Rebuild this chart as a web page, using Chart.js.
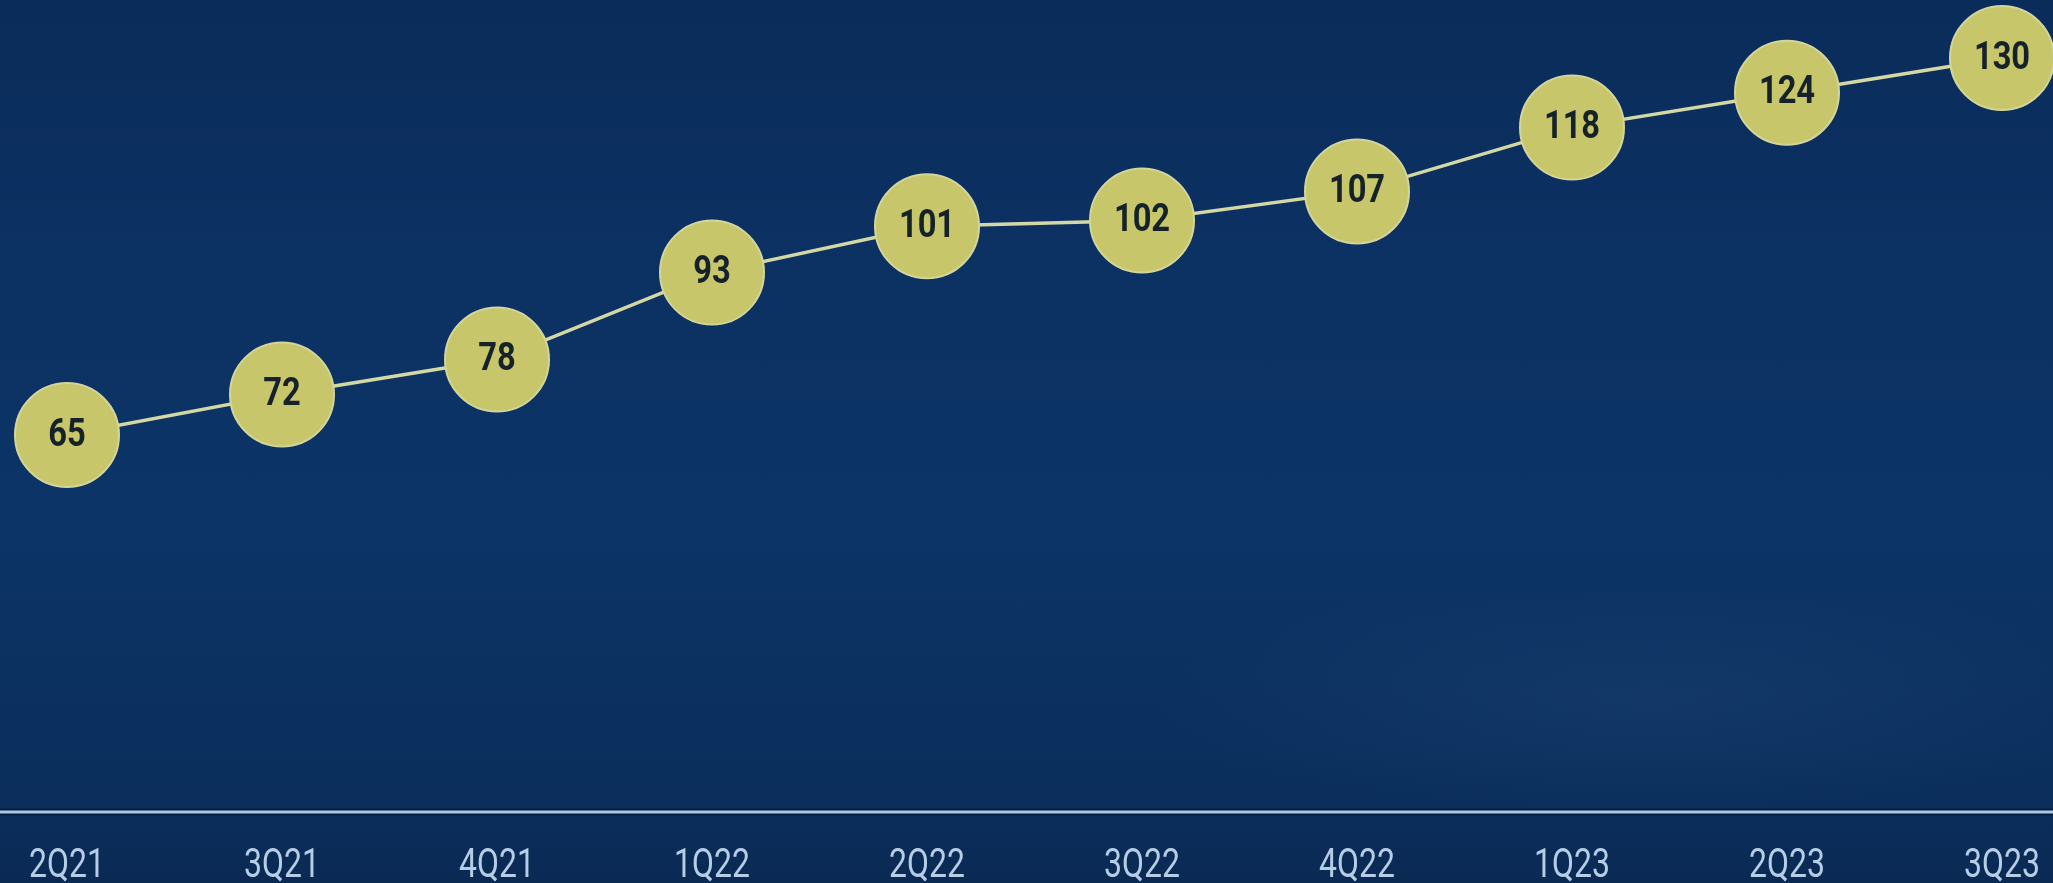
<!DOCTYPE html>
<html>
<head>
<meta charset="utf-8">
<title>Quarterly trend</title>
<script src="https://cdn.jsdelivr.net/npm/chart.js@4.4.1/dist/chart.umd.min.js"></script>
<style>
    html, body {
        margin: 0;
        padding: 0;
        width: 2053px;
        height: 883px;
        overflow: hidden;
        background: linear-gradient(180deg, #0a2c5a 0%, #0c3264 35%, #0c3466 60%, #0b2f5d 88%, #0a2a54 100%);
    }
    #wrap {
        position: relative;
        width: 2053px;
        height: 883px;
        background: radial-gradient(ellipse 500px 120px at 1650px 700px, rgba(60, 100, 150, 0.15), rgba(0, 0, 0, 0));
    }
</style>
</head>
<body>
<div id="wrap">
    <canvas id="trendChart"></canvas>
</div>
<script>
// quarters on the x axis
const quarters = ['2Q21', '3Q21', '4Q21', '1Q22', '2Q22', '3Q22', '4Q22', '1Q23', '2Q23', '3Q23'];
// value per quarter
const values = [65, 72, 78, 93, 101, 102, 107, 118, 124, 130];
// y range
const yMin = 0;
const yMax = 140;

// draws a string squeezed horizontally (narrow display face)
function drawNarrow(ctx, text, x, y, squeeze) {
    ctx.save();
    ctx.translate(x, y);
    ctx.scale(squeeze, 1);
    ctx.fillText(text, 0, 0);
    ctx.restore();
}

// full-width baseline at y = 0 plus the quarter labels under it
const baselinePlugin = {
    id: 'baseline',
    beforeDatasetsDraw(chart) {
        const ctx = chart.ctx;
        const y = chart.scales.y.getPixelForValue(yMin);
        ctx.save();
        ctx.strokeStyle = '#071d3d';
        ctx.lineWidth = 7;
        ctx.beginPath();
        ctx.moveTo(0, y);
        ctx.lineTo(chart.width, y);
        ctx.stroke();
        ctx.strokeStyle = '#a9c7e6';
        ctx.lineWidth = 3;
        ctx.beginPath();
        ctx.moveTo(0, y);
        ctx.lineTo(chart.width, y);
        ctx.stroke();

        const xScale = chart.scales.x;
        ctx.font = '400 40px Roboto, "DejaVu Sans", sans-serif';
        ctx.fillStyle = '#b6cde6';
        ctx.textAlign = 'center';
        ctx.textBaseline = 'middle';
        quarters.forEach((q, i) => {
            drawNarrow(ctx, q, xScale.getPixelForValue(i), y + 55, 0.8);
        });
        ctx.restore();
    }
};

// value labels inside the circles
const valueLabelPlugin = {
    id: 'valueLabels',
    afterDatasetsDraw(chart) {
        const ctx = chart.ctx;
        const meta = chart.getDatasetMeta(0);
        ctx.save();
        ctx.font = 'bold 38px Roboto, "DejaVu Sans", sans-serif';
        ctx.fillStyle = '#16222a';
        ctx.textAlign = 'center';
        ctx.textBaseline = 'middle';
        meta.data.forEach((pt, i) => {
            drawNarrow(ctx, String(values[i]), pt.x, pt.y + 1, 0.86);
        });
        ctx.restore();
    }
};

document.addEventListener('DOMContentLoaded', function() {
    const canvas = document.getElementById('trendChart');

    new Chart(canvas, {
        type: 'line',
        data: {
            labels: quarters,
            datasets: [{
                data: values,
                borderColor: '#d3d8a4',
                borderWidth: 3.5,
                backgroundColor: '#c8c66b',
                pointBackgroundColor: '#c8c66b',
                pointBorderColor: '#d4d59a',
                pointBorderWidth: 2,
                pointRadius: 52,
                pointHoverRadius: 52,
                tension: 0,
                fill: false,
                clip: false
            }]
        },
        options: {
            responsive: true,
            maintainAspectRatio: false,
            animation: false,
            layout: {
                autoPadding: false,
                padding: { left: 67, right: 51, top: 0, bottom: 71 }
            },
            plugins: {
                legend: { display: false },
                tooltip: { enabled: false }
            },
            scales: {
                x: {
                    display: false,
                    offset: false
                },
                y: {
                    display: false,
                    min: yMin,
                    max: yMax
                }
            }
        },
        plugins: [baselinePlugin, valueLabelPlugin]
    });
});
</script>
</body>
</html>
